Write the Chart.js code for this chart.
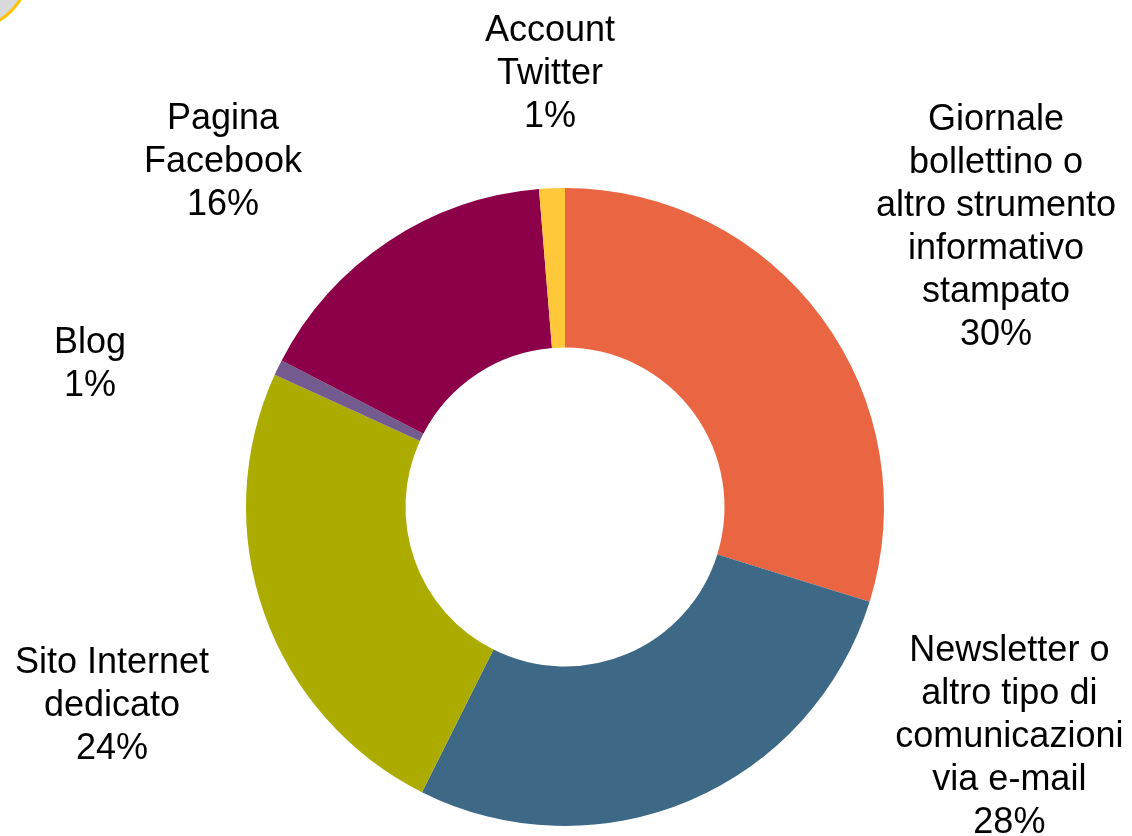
<!DOCTYPE html>
<html>
<head>
<meta charset="utf-8">
<script src="https://cdn.jsdelivr.net/npm/chart.js@4/dist/chart.umd.min.js"></script>
<style>
  html, body { margin: 0; padding: 0; background: #ffffff; overflow: hidden; }
  #wrap { position: relative; width: 1132px; height: 836px; }
  #deco { position: absolute; left: -92px; top: -92px; width: 116px; height: 116px; border-radius: 50%;
          background: #d9d9d9; border: 3px solid #ffc000; }
  canvas { position: absolute; left: 0; top: 0; }
</style>
</head>
<body>
<div id="wrap">
  <div id="deco"></div>
  <canvas id="c" width="1132" height="836"></canvas>
</div>
<script>
// ---- data ----
const categories = [
  ['Giornale', 'bollettino o', 'altro strumento', 'informativo', 'stampato'],
  ['Newsletter o', 'altro tipo di', 'comunicazioni', 'via e-mail'],
  ['Sito Internet', 'dedicato'],
  ['Blog'],
  ['Pagina', 'Facebook'],
  ['Account', 'Twitter']
];
const values = [29.8, 27.6, 24.4, 0.8, 16.1, 1.3];
const colors = ['#ea6643', '#3d6886', '#abab00', '#735b90', '#8b0048', '#ffc83a'];

// label block centres, in units of the outer radius, relative to the donut centre
const labelOffsets = [
  [1.351, -0.876],
  [1.393, 0.720],
  [-1.420, 0.624],
  [-1.489, -0.448],
  [-1.072, -1.080],
  [-0.047, -1.357]
];

const total = values.reduce((a, b) => a + b, 0);

const outsideLabels = {
  id: 'outsideLabels',
  afterDatasetsDraw(chart) {
    const ctx = chart.ctx;
    const meta = chart.getDatasetMeta(0);
    ctx.save();
    ctx.font = '36px "Liberation Sans", Arial, sans-serif';
    ctx.fillStyle = '#000000';
    ctx.textAlign = 'center';
    ctx.textBaseline = 'middle';
    const lineH = 43;
    meta.data.forEach((arc, i) => {
      const R = arc.outerRadius;
      const cx = arc.x + labelOffsets[i][0] * R;
      const cy = arc.y + labelOffsets[i][1] * R;
      const lines = categories[i].concat([Math.round(values[i] / total * 100) + '%']);
      const startY = cy - (lines.length - 1) * lineH / 2;
      lines.forEach((ln, k) => ctx.fillText(ln, cx, startY + k * lineH));
    });
    ctx.restore();
  }
};

new Chart(document.getElementById('c'), {
  type: 'doughnut',
  data: {
    labels: categories.map(c => c.join(' ')),
    datasets: [{
      data: values,
      backgroundColor: colors,
      borderWidth: 0,
      hoverOffset: 0
    }]
  },
  options: {
    responsive: false,
    animation: false,
    cutout: '50%',
    layout: { padding: { top: 188, bottom: 10, left: 0, right: 2 } },
    plugins: {
      legend: { display: false },
      tooltip: { enabled: false }
    },
    events: []
  },
  plugins: [outsideLabels]
});
</script>
</body>
</html>
